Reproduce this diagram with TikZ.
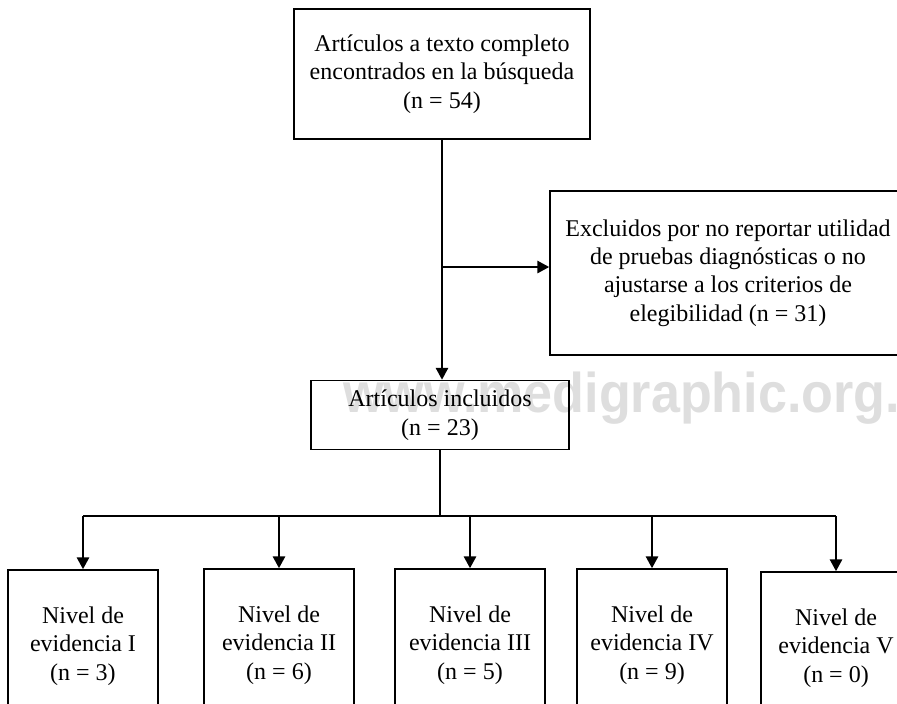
\documentclass[tikz,border=0pt]{standalone}
\usepackage{fontspec}
\setmainfont{Liberation Serif}
\newfontfamily\wmfont{Liberation Sans}
\usepackage{tikz}
\usetikzlibrary{positioning}
\usetikzlibrary{arrows.meta}
\usetikzlibrary{calc}

\begin{document}
\begin{tikzpicture}[
  x=0.5pt, y=-0.5pt,
  font=\fontsize{12}{14.2}\selectfont,
  box/.style={draw, line width=0.7pt, align=center, inner sep=0pt},
  level/.style={box, minimum width=75pt, minimum height=76pt},
  arrow/.style={-{Triangle[length=6pt, width=6pt]}, line width=1.4pt},
  link/.style={line width=1.4pt},
  watermark/.style={text=black!13, font=\wmfont\bfseries\fontsize{28}{30}\selectfont, inner sep=0pt, xscale=0.93}
]
\useasboundingbox (0,0) rectangle (897,703);
\clip (0,0) rectangle (897,703);

\node[watermark, anchor=base west] (wm) at (343,412) {www.medigraphic.org.};

\node[box, minimum width=148pt, minimum height=65pt] (found) at (442,74)
  {Artículos a texto completo\\encontrados en la búsqueda\\(n = 54)};
\node[box, minimum width=178pt, minimum height=82pt] (excluded) at (728,273)
  {Excluidos por no reportar utilidad\\de pruebas diagnósticas o no\\ajustarse a los criterios de\\elegibilidad (n = 31)};
\node[box, minimum width=129pt, minimum height=34.5pt] (included) at (440,415)
  {Artículos incluidos\\(n = 23)};

\node[level] (lev1) at (83,646)  {Nivel de\\evidencia I\\(n = 3)};
\node[level] (lev2) at (279,645) {Nivel de\\evidencia II\\(n = 6)};
\node[level] (lev3) at (470,645) {Nivel de\\evidencia III\\(n = 5)};
\node[level] (lev4) at (652,645) {Nivel de\\evidencia IV\\(n = 9)};
\node[level] (lev5) at (836,648) {Nivel de\\evidencia V\\(n = 0)};

\coordinate (split) at (found.south |- 0,267);
\coordinate (hub) at (included.south |- 0,516);

\draw[arrow] (found.south) -- (found.south |- included.north);
\draw[arrow] (split) -- (split -| excluded.west);

\draw[link] (included.south) -- (hub);
\draw[link] (lev1.north |- hub) -- (lev5.north |- hub);
\draw[arrow] (lev1.north |- hub) -- (lev1.north);
\draw[arrow] (lev2.north |- hub) -- (lev2.north);
\draw[arrow] (lev3.north |- hub) -- (lev3.north);
\draw[arrow] (lev4.north |- hub) -- (lev4.north);
\draw[arrow] (lev5.north |- hub) -- (lev5.north);

\end{tikzpicture}
\end{document}
